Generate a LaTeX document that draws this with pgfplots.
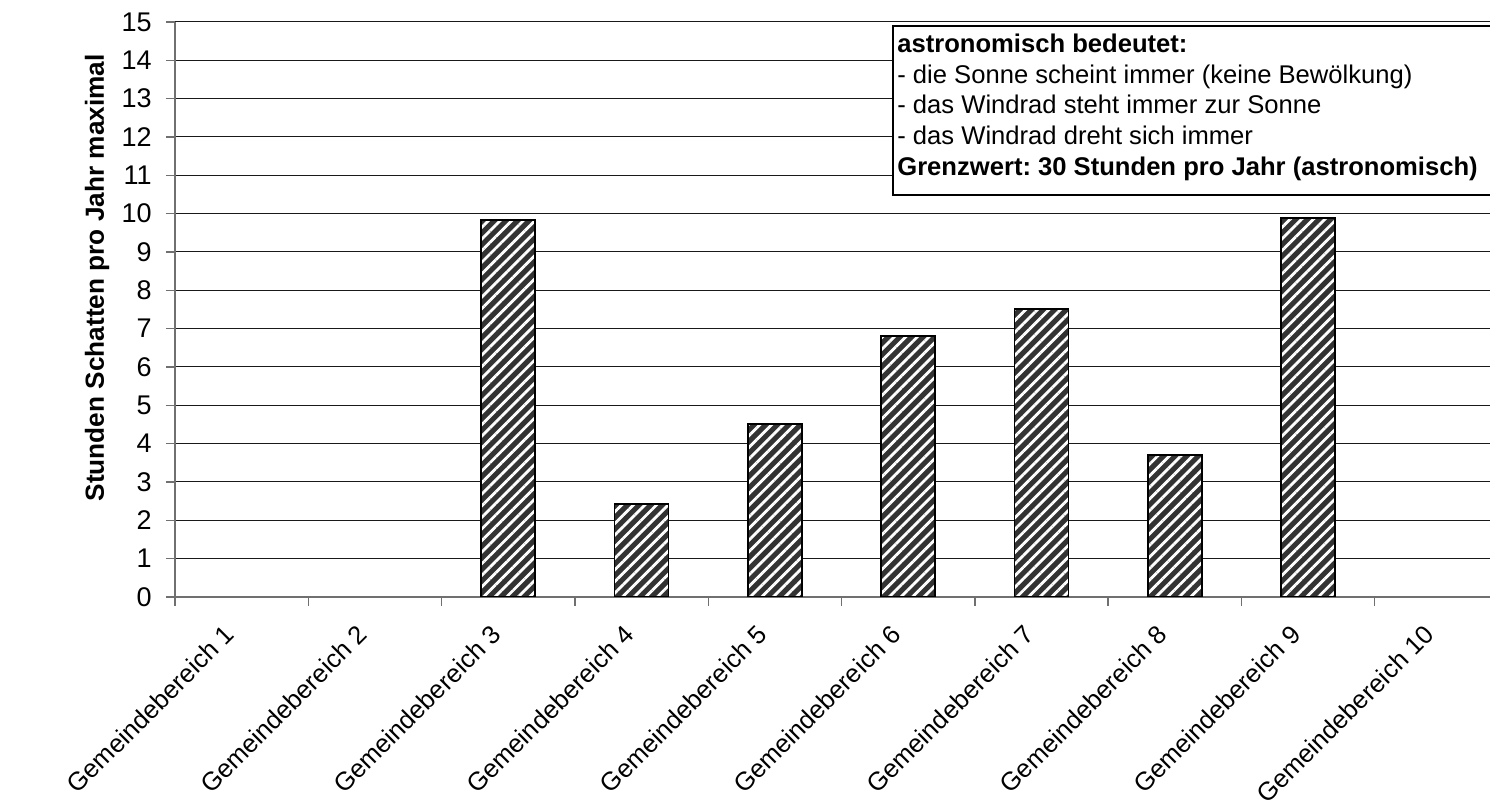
\documentclass[border=0pt]{standalone}
\usepackage{fontspec}
\setmainfont{Liberation Sans}
\usepackage{pgfplots}
\pgfplotsset{compat=1.18}
\usetikzlibrary{patterns.meta}

\definecolor{barfill}{HTML}{333333}
\definecolor{axisgray}{HTML}{707070}

\newcommand{\chartfont}{\fontsize{12.8}{15}\selectfont}
\newcommand{\tickfont}{\fontsize{13.5}{16}\selectfont}
\frenchspacing

\begin{document}
\begin{tikzpicture}
\begin{axis}[
  scale only axis,
  width=666.5pt, height=287.5pt,
  xmin=-0.5, xmax=9.5, ymin=0, ymax=15,
  axis x line*=bottom, axis y line*=left,
  axis line style={axisgray, line width=0.9pt},
  tick align=outside,
  major tick length=4.5pt,
  tick style={axisgray, line width=0.7pt},
  ytick={0,1,...,15},
  ymajorgrids,
  grid style={black!90, line width=0.5pt},
  xtick={-0.5,0.5,...,9.5},
  xticklabels={},
  extra x ticks={0,1,...,9},
  extra x tick labels={Gemeindebereich 1,Gemeindebereich 2,Gemeindebereich 3,Gemeindebereich 4,Gemeindebereich 5,Gemeindebereich 6,Gemeindebereich 7,Gemeindebereich 8,Gemeindebereich 9,Gemeindebereich 10},
  extra x tick style={xtick style={draw=none}, xticklabel style={font=\chartfont, xshift=-9.5pt, yshift=-8.5pt, rotate=45, anchor=north east, inner sep=0pt}},
  /pgf/number format/assume math mode=true,
  tick label style={font=\tickfont},
  yticklabel style={anchor=east, inner sep=0pt, xshift=-7pt},
  ylabel={Stunden Schatten pro Jahr maximal},
  ylabel style={font=\bfseries\fontsize{13.1}{15}\selectfont, at={(axis description cs:-0.0585,0.555)}, anchor=center},
  y filter/.expression={y==0 ? nan : y},
  unbounded coords=discard,
]
% shadow hours per area; areas 1, 2 and 10 have none
\addplot[ybar, bar width=27pt, draw=black, line width=0.8pt, fill=barfill,
  postaction={pattern={Lines[angle=45, distance=4.1pt, line width=1.4pt]}, pattern color=white}]
  coordinates {(0,0) (1,0) (2,9.84) (3,2.42) (4,4.52) (5,6.81) (6,7.52) (7,3.71) (8,9.88) (9,0)};

% explanation box
\draw[black, line width=0.7pt, fill=white]
  (axis description cs:0.5386,0.9930) rectangle (axis description cs:1.05,0.6992);
\node[anchor=base west, inner sep=0pt, font=\bfseries\chartfont] at (axis description cs:0.5416,0.9461) {astronomisch bedeutet:};
\node[anchor=base west, inner sep=0pt, font=\chartfont] at (axis description cs:0.5416,0.8930) {- die Sonne scheint immer (keine Bewölkung)};
\node[anchor=base west, inner sep=0pt, font=\chartfont] at (axis description cs:0.5416,0.8400) {- das Windrad steht immer zur Sonne};
\node[anchor=base west, inner sep=0pt, font=\chartfont] at (axis description cs:0.5416,0.7870) {- das Windrad dreht sich immer};
\node[anchor=base west, inner sep=0pt, font=\bfseries\chartfont] at (axis description cs:0.5416,0.7339) {Grenzwert: 30 Stunden pro Jahr (astronomisch)};
\end{axis}
\pgfresetboundingbox
\path[use as bounding box] (-87.5pt,-102.5pt) rectangle (657.5pt,298.5pt);
\end{tikzpicture}
\end{document}
